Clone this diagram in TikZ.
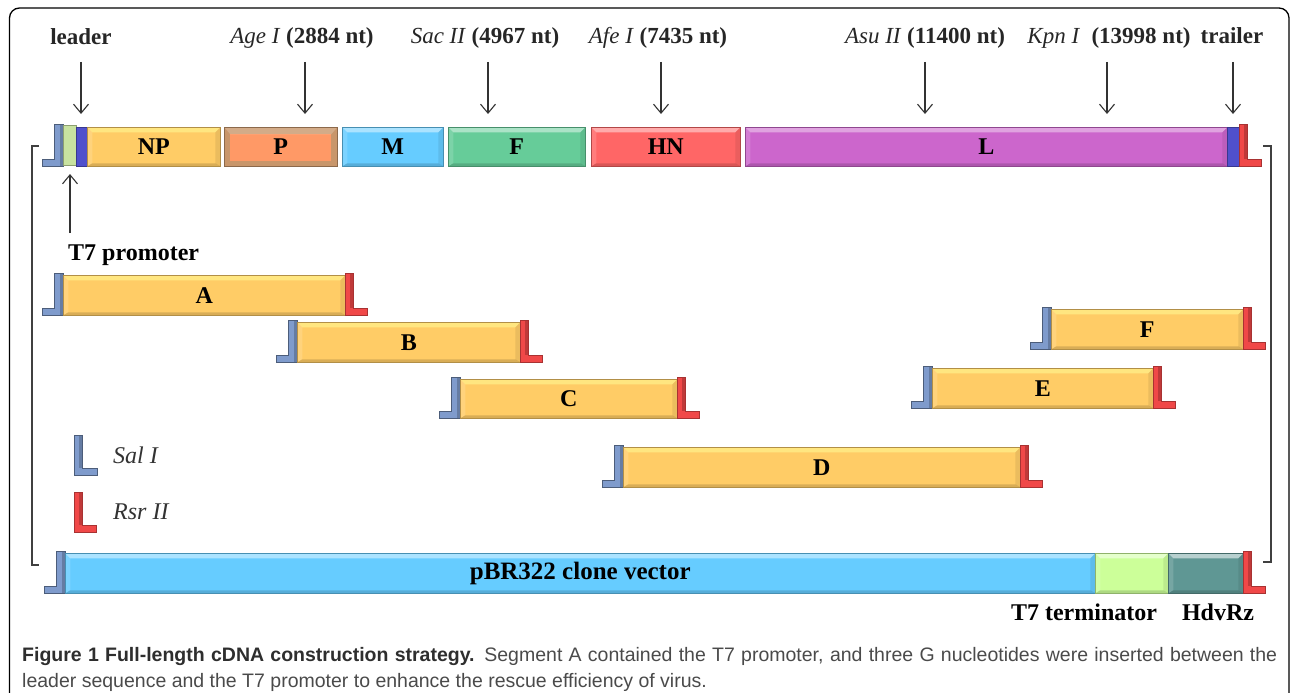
\documentclass[tikz,border=0pt]{standalone}
\usepackage{fontspec}
\setmainfont{Liberation Serif}
\newfontfamily\capfont{Liberation Sans}
\usetikzlibrary{arrows.meta}
\definecolor{npc}{HTML}{FFCC66}
\definecolor{npt}{HTML}{FFE680}
\definecolor{pout}{HTML}{C8966B}
\definecolor{pinner}{HTML}{FF9966}
\definecolor{mc}{HTML}{66CCFF}
\definecolor{fc}{HTML}{66CC99}
\definecolor{hnc}{HTML}{FF6666}
\definecolor{lc}{HTML}{CC66CC}
\definecolor{t7t}{HTML}{CCFF99}
\definecolor{hdv}{HTML}{5F9794}
\definecolor{salc}{HTML}{7F9BCC}
\definecolor{rsrc}{HTML}{F04848}
\definecolor{leadc}{HTML}{5050CC}
\definecolor{t7p}{HTML}{C8E2A0}
\definecolor{capgray}{HTML}{4A4A4A}
\definecolor{capdark}{HTML}{2E2E2E}
\tikzset{
  lbl/.style={font=\bfseries\fontsize{24}{24}\selectfont, text=black},
  toplbl/.style={font=\fontsize{23}{23}\selectfont, text=black!85, inner sep=0pt, anchor=base},
  leg/.style={font=\itshape\fontsize{24}{24}\selectfont, text=black!80, inner sep=0pt, anchor=base west},
  bev/.style 2 args={draw=#1!70!black, line width=0.5pt, fill=#1, inner sep=0pt, lbl,
    path picture={
      \fill[#2] (path picture bounding box.north west) -- (path picture bounding box.north east)
        -- ([shift={(-5pt,-5pt)}]path picture bounding box.north east) -- ([shift={(5pt,-5pt)}]path picture bounding box.north west) -- cycle;
      \fill[black,opacity=0.15] (path picture bounding box.south west) -- (path picture bounding box.south east)
        -- ([shift={(-5pt,3pt)}]path picture bounding box.south east) -- ([shift={(5pt,3pt)}]path picture bounding box.south west) -- cycle;
      \fill[black,opacity=0.08] (path picture bounding box.north east) -- (path picture bounding box.south east)
        -- ([shift={(-5pt,3pt)}]path picture bounding box.south east) -- ([shift={(-5pt,-5pt)}]path picture bounding box.north east) -- cycle;
      \fill[white,opacity=0.15] (path picture bounding box.north west) -- (path picture bounding box.south west)
        -- ([shift={(5pt,3pt)}]path picture bounding box.south west) -- ([shift={(5pt,-5pt)}]path picture bounding box.north west) -- cycle;
    }},
  pbox/.style={draw=pout!70!black, line width=0.5pt, fill=pout, inner sep=0pt, lbl,
    path picture={
      \fill[pinner] ([shift={(6pt,-7pt)}]path picture bounding box.north west) rectangle ([shift={(-6pt,5pt)}]path picture bounding box.south east);
      \fill[white,opacity=0.2] (path picture bounding box.north west) -- (path picture bounding box.north east)
        -- ([shift={(-6pt,-7pt)}]path picture bounding box.north east) -- ([shift={(6pt,-7pt)}]path picture bounding box.north west) -- cycle;
    }},
  rsrL/.style={fill=rsrc, draw=rsrc!70!black, line width=0.5pt},
  salL/.style={fill=salc, draw=salc!60!black, line width=0.5pt},
  arr/.style={draw=black!80, line width=1.1pt, -{Straight Barb[length=9pt,width=15pt]}},
  brk/.style={draw=black!75, line width=1.2pt},
}
\newcommand\bx[8]{\node[bev={#6}{#7}, minimum width={(#4-#2)*1pt}, minimum height={(#5-#3)*1pt}, anchor=north west] (#1) at (#2,#3) {#8};}
\newcommand\rsrmark[3]{%
  \filldraw[rsrL] (#1,#2) -- ({#1+8},#2) -- ({#1+8},{#3-7}) -- ({#1+22},{#3-7}) -- ({#1+22},#3) -- (#1,#3) -- cycle;
  \fill[black,opacity=0.2] ({#1+5},{#2+1}) rectangle ({#1+8},{#3-7});}
\newcommand\salmark[3]{%
  \filldraw[salL] (#1,#2) -- ({#1-9},#2) -- ({#1-9},{#3-7}) -- ({#1-21},{#3-7}) -- ({#1-21},#3) -- (#1,#3) -- cycle;
  \fill[black,opacity=0.2] ({#1-3},{#2+1}) rectangle (#1,#3);}
\newcommand\salnorm[3]{%
  \filldraw[salL] (#1,#2) -- ({#1+8},#2) -- ({#1+8},{#3-7}) -- ({#1+23},{#3-7}) -- ({#1+23},#3) -- (#1,#3) -- cycle;
  \fill[black,opacity=0.2] ({#1+5},{#2+1}) rectangle ({#1+8},{#3-7});}
\begin{document}
\begin{tikzpicture}[x=1pt,y=-1pt]
\useasboundingbox (0,0) rectangle (1290,693);
% frame
\draw[line width=1.3pt, rounded corners=10pt] (9.5,693) -- (9.5,8) -- (1289,8) -- (1289,693);

% top labels
\node[toplbl] (leader) at (81,45) {\bfseries leader};
\node[toplbl] (age) at (302,44) {\textit{Age I} \textbf{(2884 nt)}};
\node[toplbl] (sac) at (485,44) {\textit{Sac II} \textbf{(4967 nt)}};
\node[toplbl] (afe) at (658,44) {\textit{Afe I} \textbf{(7435 nt)}};
\node[toplbl] (asu) at (925,44) {\textit{Asu II} \textbf{(11400 nt)}};
\node[toplbl] (kpn) at (1109,44) {\textit{Kpn I}\ \ \textbf{(13998 nt)}};
\node[toplbl] (trailer) at (1232,44) {\bfseries trailer};

% arrows
\foreach \n/\x in {a/81,b/305,c/488,d/661,e/925,f/1107,g/1233}{
  \coordinate (s\n) at (\x,62);
  \coordinate (t\n) at (\x,114);
  \draw[arr] (s\n) -- (t\n);
}

% genome row
\salmark{63}{124}{166}
\node[fill=t7p, draw=t7p!70!black, line width=0.5pt, minimum width=13pt, minimum height=40pt, inner sep=0pt, anchor=north west] (t7p) at (63,125) {};
\node[fill=leadc, draw=leadc!70!black, line width=0.5pt, minimum width=11pt, minimum height=39pt, inner sep=0pt, anchor=north west] (lead) at (76,127) {};
\bx{NP}{87}{127}{220}{166}{npc}{npt}{NP}
\node[pbox, minimum width=113pt, minimum height=39pt, anchor=north west] (P) at (224,127) {P};
\bx{M}{342}{127}{443}{166}{mc}{mc!55!white}{M}
\bx{F}{448}{127}{585}{166}{fc}{fc!55!white}{F}
\bx{HN}{591}{127}{740}{166}{hnc}{hnc!55!white}{HN}
\bx{L}{745}{127}{1227}{166}{lc}{lc!60!white}{L}
\node[fill=leadc, draw=leadc!70!black, line width=0.5pt, minimum width=12pt, minimum height=39pt, inner sep=0pt, anchor=north west] (trl) at (1227,127) {};
\rsrmark{1239}{124}{166}

% T7 promoter
\node[lbl, inner sep=0pt, anchor=base west] (t7plbl) at (68,260) {T7 promoter};
\coordinate (t7s) at (70,233);
\coordinate (t7e) at (70,174);
\draw[arr] (t7s) -- (t7e);

% brackets
\draw[brk] (39,146) -- (32,146) -- (32,565) -- (39,565);
\draw[brk] (1263,146) -- (1271,146) -- (1271,562) -- (1263,562);

% fragments
\salmark{63}{273}{315}
\bx{A}{63}{275}{345}{315}{npc}{npt}{A}
\rsrmark{345}{273}{315}
\salmark{297}{320}{362}
\bx{B}{297}{322}{520}{362}{npc}{npt}{B}
\rsrmark{520}{320}{362}
\salmark{460}{377}{418}
\bx{C}{460}{379}{677}{418}{npc}{npt}{C}
\rsrmark{677}{377}{418}
\salmark{623}{445}{487}
\bx{D}{623}{447}{1020}{487}{npc}{npt}{D}
\rsrmark{1020}{445}{487}
\salmark{932}{366}{408}
\bx{E}{932}{368}{1153}{408}{npc}{npt}{E}
\rsrmark{1153}{366}{408}
\salmark{1051}{307}{349}
\bx{Ff}{1051}{309}{1243}{349}{npc}{npt}{F}
\rsrmark{1243}{307}{349}

% legend
\salnorm{74}{435}{475}
\node[leg] (sal) at (113,463) {Sal I};
\rsrmark{74}{492}{532}
\node[leg] (rsr) at (113,519) {Rsr II};

% vector
\salmark{65}{551}{593}
\bx{pbr}{65}{553}{1095}{593}{mc}{mc!55!white}{\fontsize{25}{25}\selectfont pBR322 clone vector}
\bx{t7t}{1095}{553}{1168}{593}{t7t}{t7t!50!white}{}
\bx{hdv}{1168}{553}{1243}{593}{hdv}{hdv!45!white}{}
\rsrmark{1243}{551}{593}
\node[lbl, inner sep=0pt, anchor=base] (t7tl) at (1084,620) {T7 terminator};
\node[lbl, inner sep=0pt, anchor=base] (hdvl) at (1218,620) {HdvRz};

% caption
\node[anchor=base west, inner sep=0pt, font=\capfont\fontsize{19.5}{19.5}\selectfont, text=capgray] (cap1) at (22,661)
  {\makebox[1255pt][s]{\textbf{\color{capdark}Figure 1 Full-length cDNA construction strategy.} Segment A contained the T7 promoter, and three G nucleotides were inserted between the}};
\node[anchor=base west, inner sep=0pt, font=\capfont\fontsize{19.5}{19.5}\selectfont, text=capgray] (cap2) at (22,687)
  {leader sequence and the T7 promoter to enhance the rescue efficiency of virus.};
\end{tikzpicture}
\end{document}
